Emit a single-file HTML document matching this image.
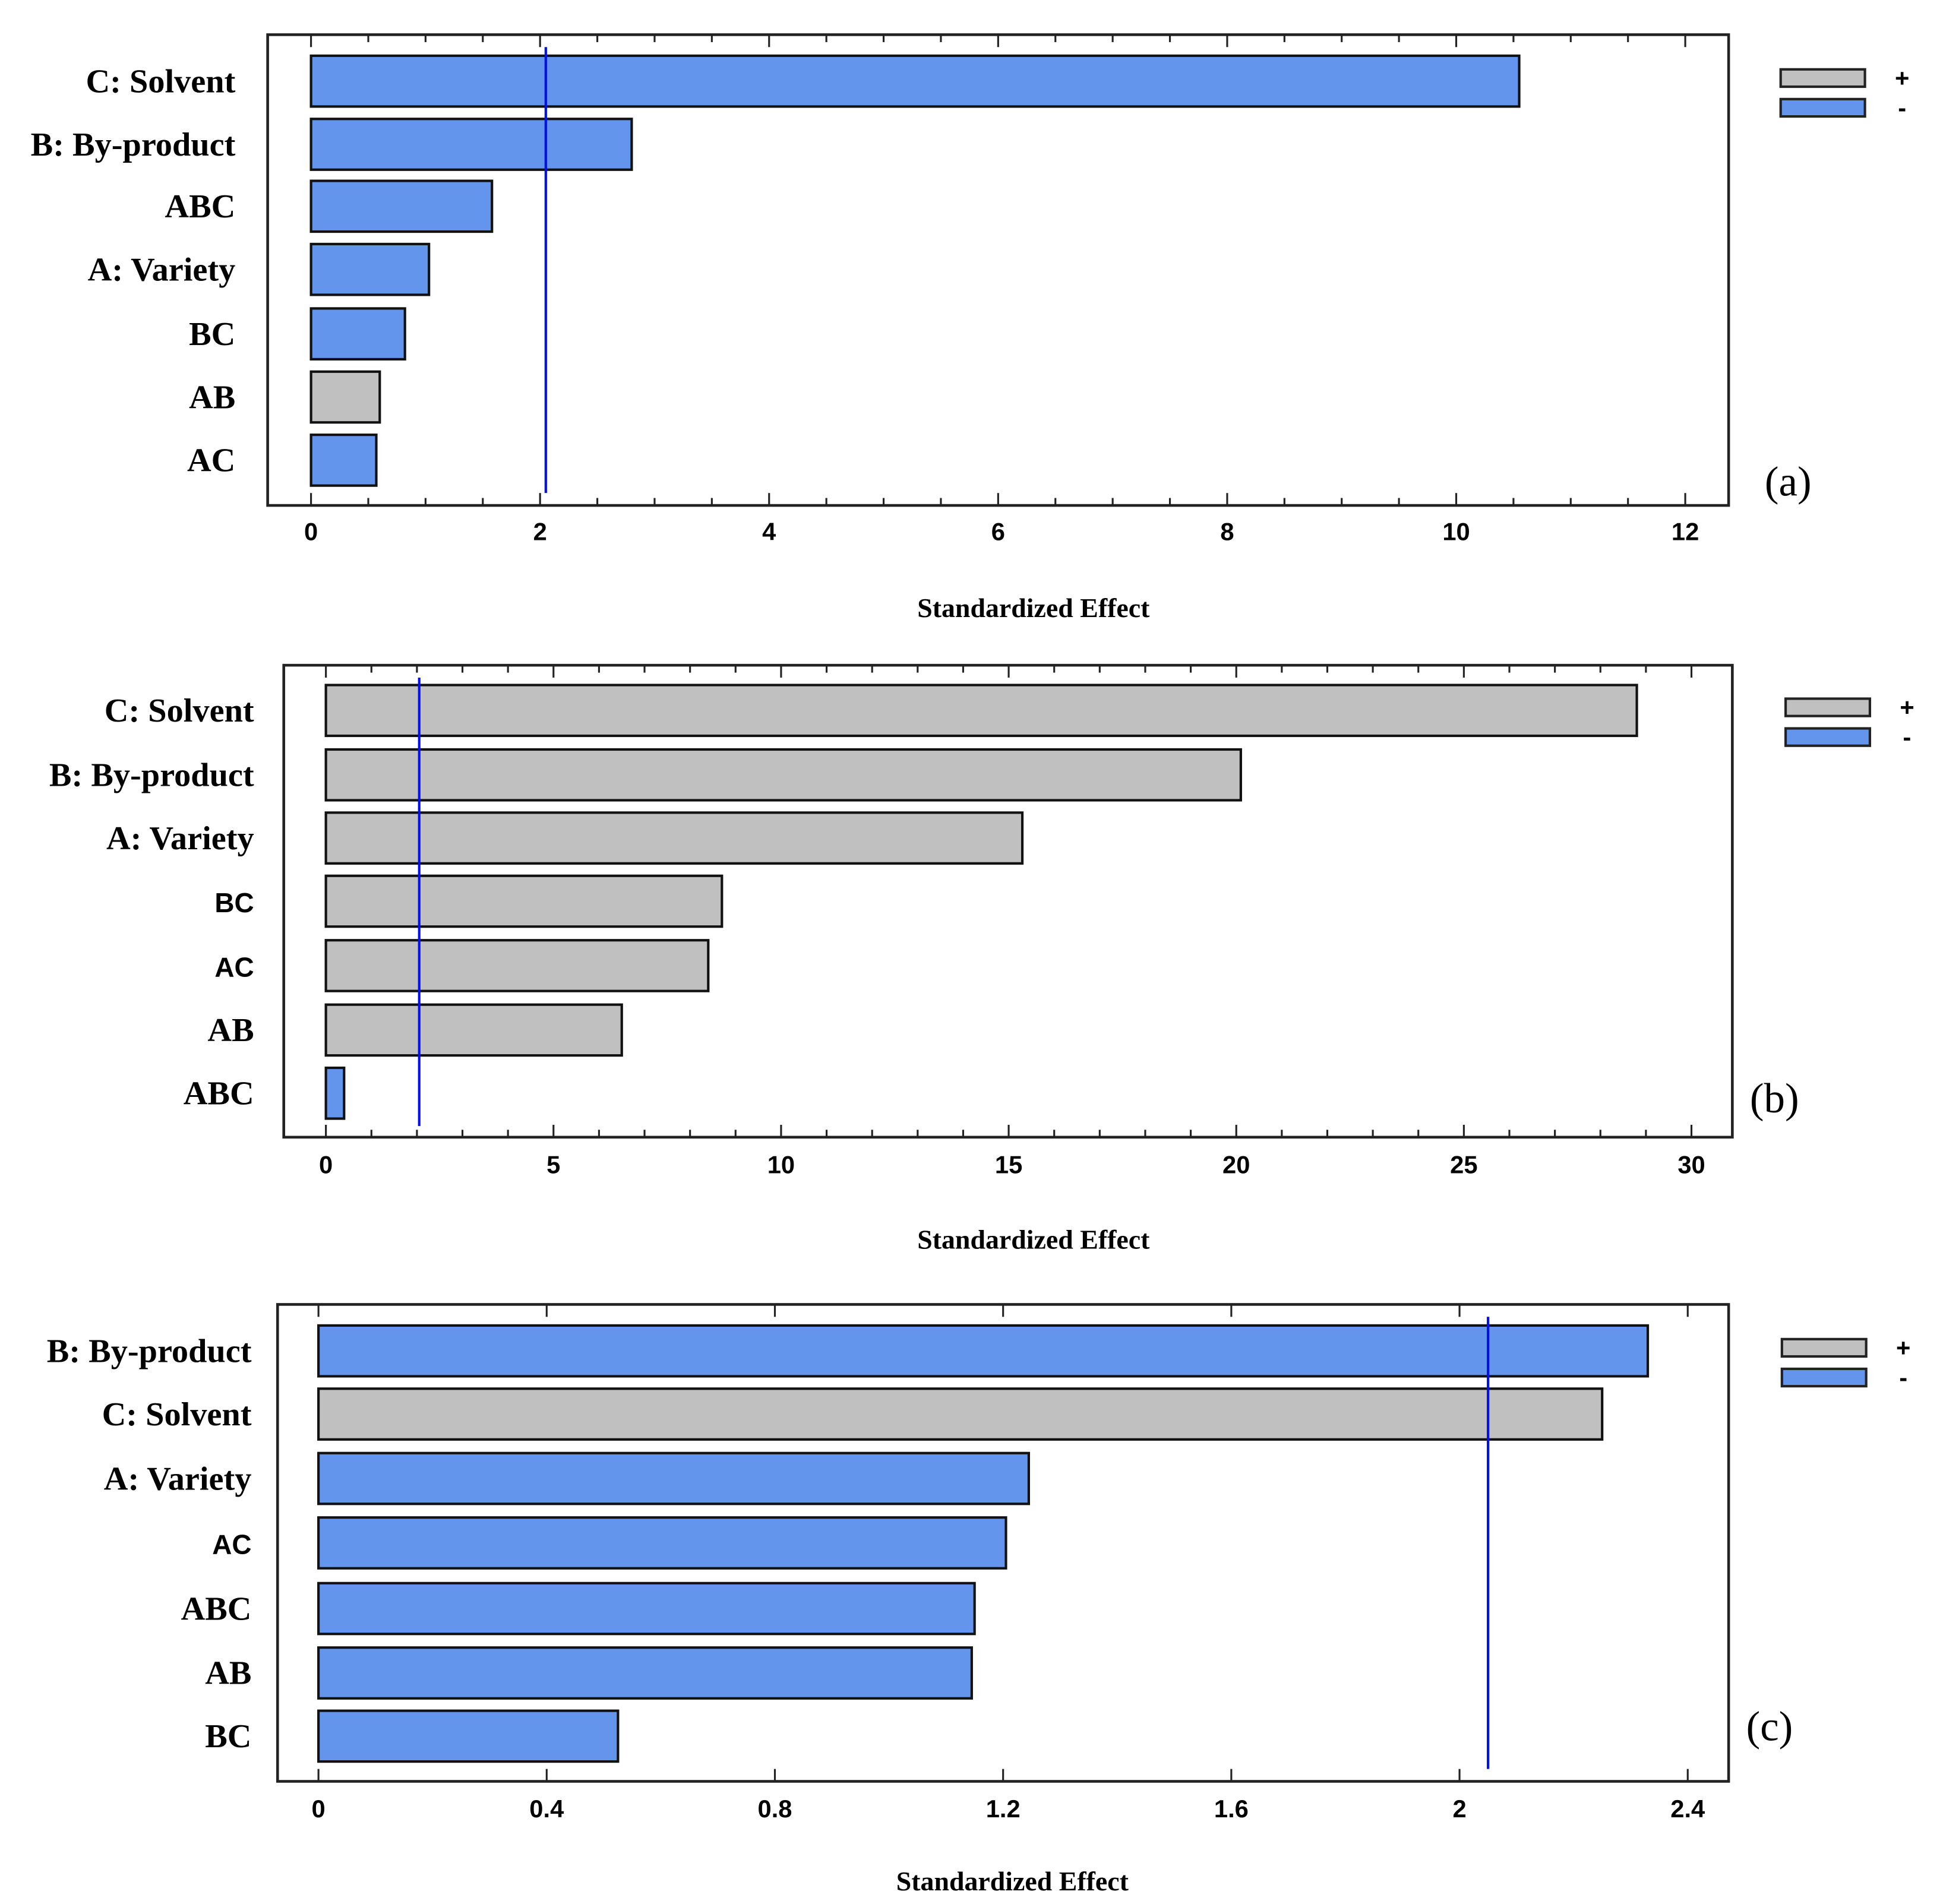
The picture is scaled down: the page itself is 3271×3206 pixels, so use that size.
<!DOCTYPE html>
<html><head><meta charset="utf-8"><style>
html,body{margin:0;padding:0;background:#fff;}
svg{display:block;}
.lab{font-family:"Liberation Serif",serif;font-weight:bold;font-size:27px;fill:#000;}
.labs{font-family:"Liberation Sans",sans-serif;font-weight:bold;font-size:22px;fill:#000;}
.tick{font-family:"Liberation Sans",sans-serif;font-weight:bold;font-size:20px;fill:#000;}
.title{font-family:"Liberation Serif",serif;font-weight:bold;font-size:22px;fill:#000;}
.pl{font-family:"Liberation Serif",serif;font-size:34px;fill:#000;}
</style></head><body>
<svg id="fig" width="3271" height="3206" viewBox="0 0 1568 1537" preserveAspectRatio="none" xmlns="http://www.w3.org/2000/svg"></svg>
<script>
const aLabels=["C: Solvent","B: By-product","ABC","A: Variety","BC","AB","AC"];
const aValues=[10.55,2.8,1.58,1.03,0.82,0.6,0.57];
const aSigns=["-","-","-","-","-","+","-"];
const aTicks=[0,2,4,6,8,10,12];
const bLabels=["C: Solvent","B: By-product","A: Variety","BC","AC","AB","ABC"];
const bValues=[28.8,20.1,15.3,8.7,8.4,6.5,0.4];
const bSigns=["+","+","+","+","+","+","-"];
const bTicks=[0,5,10,15,20,25,30];
const cLabels=["B: By-product","C: Solvent","A: Variety","AC","ABC","AB","BC"];
const cValues=[2.33,2.25,1.245,1.205,1.15,1.145,0.525];
const cSigns=["-","+","-","-","-","-","-"];
const cTicks=["0","0.4","0.8","1.2","1.6","2","2.4"];
const critLine=[2.05,2.05,2.05];

const NS="http://www.w3.org/2000/svg";
const svg=document.getElementById('fig');
function mk(tag,attrs,parent){const e=document.createElementNS(NS,tag);for(const k in attrs)e.setAttribute(k,attrs[k]);(parent||svg).appendChild(e);return e;}

const panels=[
 {id:'a',labels:aLabels,values:aValues,signs:aSigns,ticks:aTicks,max:12,minor:0.5,fx0:216,fx1:1395,fy0:28,fy1:408,x0:251,x1:1360,barTops:[45,96,146,197,249,300,351],bh:41,ly0:38,ly1:398,tickY:436,titleY:498,titleX:834,legX:1437,legY:[56,80],letter:'(a)',letX:1443,letY:400,sansIdx:[],labX:190,crit:critLine[0]},
 {id:'b',labels:bLabels,values:bValues,signs:bSigns,ticks:bTicks,max:30,minor:1,fx0:229,fx1:1398,fy0:537,fy1:918,x0:263,x1:1365,barTops:[553,605,656,707,759,811,862],bh:41,ly0:547,ly1:909,tickY:947,titleY:1008,titleX:834,legX:1441,legY:[564,588],letter:'(b)',letX:1432,letY:898,sansIdx:[3,4],labX:205,crit:critLine[1]},
 {id:'c',labels:cLabels,values:cValues,signs:cSigns,ticks:cTicks,max:2.4,minor:0.4,fx0:224,fx1:1395,fy0:1053,fy1:1438,x0:257,x1:1362,barTops:[1070,1121,1173,1225,1278,1330,1381],bh:41,ly0:1063,ly1:1428,tickY:1467,titleY:1526,titleX:817,legX:1438,legY:[1081,1105],letter:'(c)',letX:1428,letY:1405,sansIdx:[3],labX:203,crit:critLine[2]}
];

panels.forEach(p=>{
 const g=mk('g',{});
 
 
 const xs=v=>p.x0+(v/p.max)*(p.x1-p.x0);
 const fr=mk('rect',{x:p.fx0,y:p.fy0,width:p.fx1-p.fx0,height:p.fy1-p.fy0,fill:'none',stroke:'#222','stroke-width':2.2},g);
 
 
 const nMinor=Math.round(p.max/p.minor);
 for(let i=0;i<=nMinor;i++){
  const v=i*p.minor, x=xs(v);
  const major=p.ticks.some(t=>Math.abs(parseFloat(t)-v)<1e-6);
  const len=major?10:6;
  mk('line',{x1:x,x2:x,y1:p.fy0,y2:p.fy0+len,stroke:'#222','stroke-width':1.5},g);
  mk('line',{x1:x,x2:x,y1:p.fy1,y2:p.fy1-len,stroke:'#222','stroke-width':1.5},g);
 }
 p.ticks.forEach(t=>{
  const tx=mk('text',{x:xs(parseFloat(t)),y:p.tickY,'text-anchor':'middle',class:'tick'},g);
  tx.textContent=t;
  
  
 });
 p.values.forEach((v,i)=>{
  const r=mk('rect',{x:p.x0,y:p.barTops[i],width:xs(v)-p.x0,height:p.bh,fill:p.signs[i]==='+'?'#c0c0c0':'#6495ed',stroke:'#111','stroke-width':2},g);
  
  
  const sans=p.sansIdx.includes(i);
  const t=mk('text',{x:p.labX,y:p.barTops[i]+p.bh/2+9,'text-anchor':'end',class:sans?'labs':'lab'},g);
  t.textContent=p.labels[i];
  
  
 });
 const cl=mk('line',{x1:xs(p.crit),x2:xs(p.crit),y1:p.ly0,y2:p.ly1,stroke:'#0010ee','stroke-width':2},g);
 
 
 const ti=mk('text',{x:p.titleX,y:p.titleY,'text-anchor':'middle',class:'title'},g);
 ti.textContent='Standardized Effect';
 
 
 const lg=mk('g',{},g);
 
 
 [['+','#c0c0c0'],['-','#6495ed']].forEach((e,k)=>{
  const r=mk('rect',{x:p.legX,y:p.legY[k],width:68,height:14,fill:e[1],stroke:'#222','stroke-width':2},lg);
  
  
  const t=mk('text',{x:p.legX+98,y:p.legY[k]+14,'text-anchor':'middle',class:'tick','font-size':22},lg);
  t.textContent=e[0];
  
  
 });
 const pl=mk('text',{x:p.letX,y:p.letY,'text-anchor':'middle',class:'pl'},g);
 pl.textContent=p.letter;
 
 
});
</script>
</body></html>
